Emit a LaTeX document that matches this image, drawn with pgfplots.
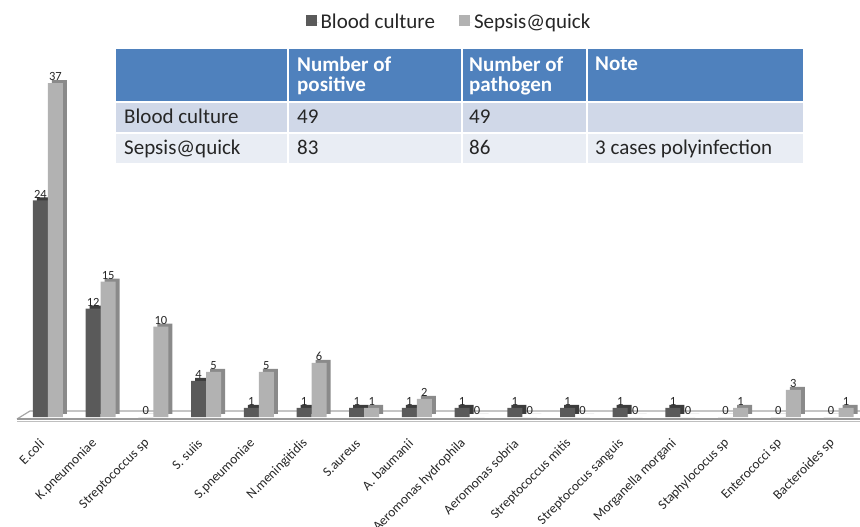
\documentclass[border=0pt]{standalone}
\usepackage{pgfplots}
\usepackage{pgfplotstable}
\pgfplotsset{compat=1.18}
\usepackage{fontspec}
\setmainfont{Carlito}
\definecolor{bcfront}{HTML}{5A5A5A}
\definecolor{bcside}{HTML}{3C3C3C}
\definecolor{sqfront}{HTML}{B2B2B2}
\definecolor{sqside}{HTML}{8A8A8A}
\definecolor{hdr}{HTML}{4F81BD}
\definecolor{rowa}{HTML}{D0D8E8}
\definecolor{rowb}{HTML}{E9EDF4}
\definecolor{txt}{HTML}{262626}
\pgfplotsset{ybar legend/.style={/pgfplots/legend image code/.code={\fill[##1,draw=none] (0bp,-4bp) rectangle (11bp,7bp);\path (0bp,0bp) -- (13bp,0bp);}}}
\pgfplotstableread{
x bc sq
0 24 37
1 12 15
2 0 10
3 4 5
4 1 5
5 1 6
6 1 1
7 1 2
8 1 0
9 1 0
10 1 0
11 1 0
12 1 0
13 0 1
14 0 3
15 0 1
}\datatable
\begin{document}
\begin{tikzpicture}
\path[use as bounding box] (0bp,0bp) rectangle (860bp,527bp);
% floor
\draw[black!35, line width=1.2bp] (17bp,108bp) -- (30bp,116bp) -- (860bp,116bp);
\draw[black!40, line width=1.2bp] (17bp,108bp) -- (860bp,108bp);
\draw[black!25, line width=0.8bp] (17bp,106bp) -- (860bp,106bp);
\begin{axis}[
  at={(19bp,110bp)}, anchor=south west,
  scale only axis, width=840.6bp, height=361bp,
  xmin=-0.55, xmax=15.4, ymin=0, ymax=40,
  axis line style={draw=none}, tick style={draw=none},
  ytick=\empty,
  xtick=data,
  xticklabels={E.coli, K.pneumoniae, Streptococcus sp, S. suiis, S.pneumoniae, N.meningitidis, S.aureus, A. baumanii, Aeromonas hydrophila, Aeromonas sobria, Streptococcus mitis, Streptococus sanguis, Morganella morgani, Staphylococus sp, Enterococci sp, Bacteroides sp},
  xticklabel style={xshift=-6bp, yshift=-20bp, rotate=45, anchor=east, inner sep=0bp, text=txt, font=\fontsize{13.5bp}{15bp}\selectfont},
  /pgf/number format/assume math mode=true,
  ybar, bar width=15bp,
  every node near coord/.append style={font=\fontsize{12.5bp}{14bp}\selectfont, text=txt, inner sep=2bp},
  legend style={at={(0.5115,1.094)}, anchor=center, draw=none, fill=none, text=txt,
    font=\fontsize{21bp}{24bp}\selectfont, legend columns=2,
    /tikz/every even column/.append style={column sep=22bp}},
]
\addplot[ybar, bar shift=-7.5bp, fill=bcside, draw=none, xshift=4bp, yshift=3bp, forget plot] table[x=x,y=bc] {\datatable};
\addplot[ybar, bar shift=-7.5bp, fill=bcfront, draw=none, nodes near coords] table[x=x,y=bc] {\datatable};
\addlegendentry{Blood culture}
\addplot[ybar, bar shift=7.5bp, fill=sqside, draw=none, xshift=4bp, yshift=3bp, forget plot] table[x=x,y=sq] {\datatable};
\addplot[ybar, bar shift=7.5bp, fill=sqfront, draw=none, nodes near coords] table[x=x,y=sq] {\datatable};
\addlegendentry{Sepsis@quick}
\end{axis}
% table overlay
\fill[hdr] (116bp,426bp) rectangle (287bp,478bp);
\fill[hdr] (289bp,426bp) rectangle (461bp,478bp);
\fill[hdr] (463bp,426bp) rectangle (586bp,478bp);
\fill[hdr] (588bp,426bp) rectangle (803bp,478bp);
\fill[rowa] (116bp,395bp) rectangle (287bp,424bp);
\fill[rowa] (289bp,395bp) rectangle (461bp,424bp);
\fill[rowa] (463bp,395bp) rectangle (586bp,424bp);
\fill[rowa] (588bp,395bp) rectangle (803bp,424bp);
\fill[rowb] (116bp,364bp) rectangle (287bp,393bp);
\fill[rowb] (289bp,364bp) rectangle (461bp,393bp);
\fill[rowb] (463bp,364bp) rectangle (586bp,393bp);
\fill[rowb] (588bp,364bp) rectangle (803bp,393bp);
\begin{scope}[every node/.style={inner sep=0bp}]
\node[anchor=north west, align=left, text=white, font=\fontsize{21bp}{19.5bp}\selectfont\bfseries] at (297bp,470bp) {Number of\\positive};
\node[anchor=north west, align=left, text=white, font=\fontsize{21bp}{19.5bp}\selectfont\bfseries] at (469bp,470bp) {Number of\\pathogen};
\node[anchor=north west, text=white, font=\fontsize{21bp}{19.5bp}\selectfont\bfseries] at (595bp,470bp) {Note};
\end{scope}
\begin{scope}[every node/.style={anchor=base west, inner sep=0bp, text=txt, font=\fontsize{21bp}{24bp}\selectfont}]
\node at (124bp,403bp) {Blood culture};
\node at (297bp,403bp) {49};
\node at (469bp,403bp) {49};
\node at (124bp,372bp) {Sepsis@quick};
\node at (297bp,372bp) {83};
\node at (469bp,372bp) {86};
\node at (595bp,372bp) {3 cases polyinfection};
\end{scope}
\end{tikzpicture}
\end{document}
